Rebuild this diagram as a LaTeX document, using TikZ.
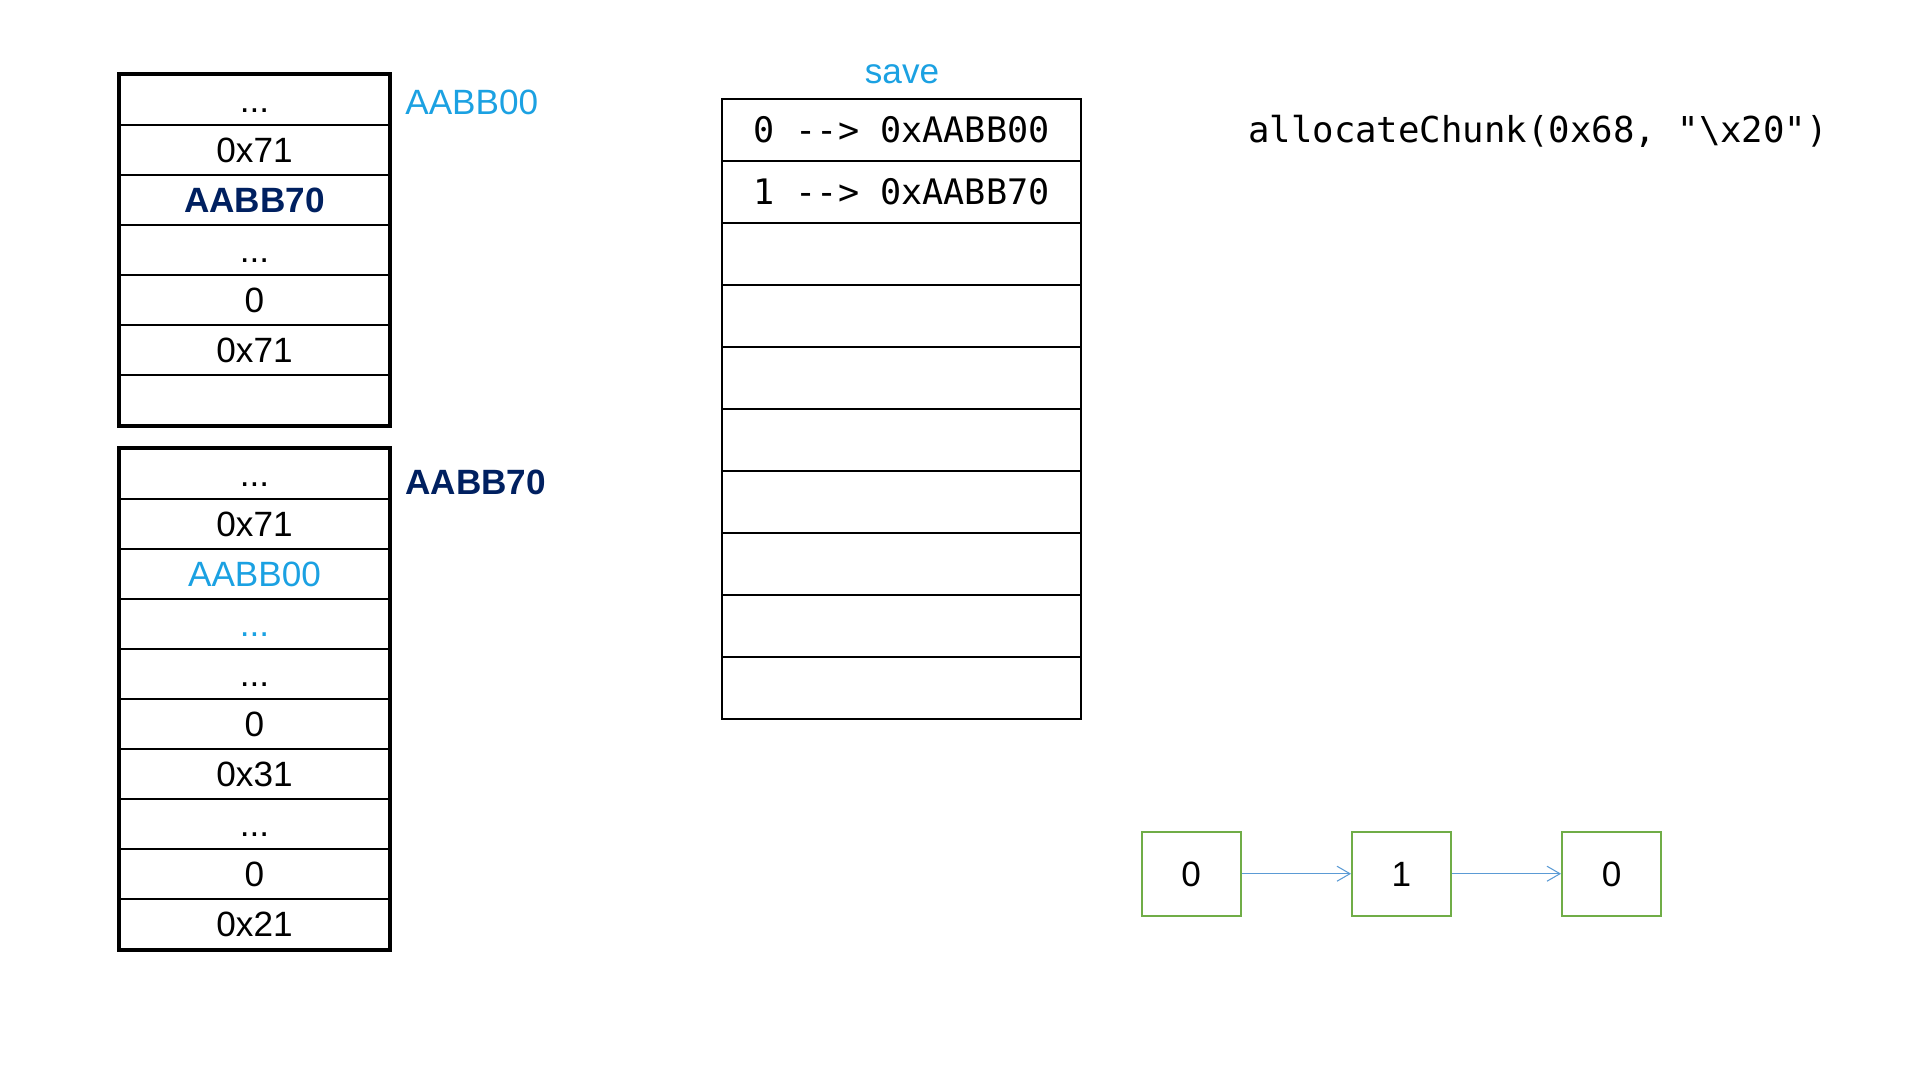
\documentclass[tikz,border=0pt]{standalone}
\usepackage{fontspec}
\setmainfont{Liberation Sans}
\setmonofont{DejaVu Sans Mono}
\usetikzlibrary{arrows.meta}

\definecolor{addrcyan}{RGB}{27,161,226}
\definecolor{addrnavy}{RGB}{0,32,96}
\definecolor{boxgreen}{RGB}{112,173,71}
\definecolor{linkblue}{RGB}{91,155,213}

\begin{document}
\begin{tikzpicture}[x=0.02cm, y=-0.02cm,
        cell/.style={draw, line width=1.1pt, minimum width=5.38cm, minimum height=1cm, inner sep=0pt,
            text height=14.3pt, text depth=0pt, font=\fontsize{20}{24}\selectfont},
        slot/.style={draw, line width=1pt, minimum width=7.18cm, minimum height=1.24cm, inner sep=0pt,
            text height=14.6pt, text depth=0pt, font=\ttfamily\fontsize{20}{24}\selectfont},
        listbox/.style={draw=boxgreen, line width=1.1pt, minimum width=1.98cm, minimum height=1.68cm, inner sep=0pt,
            text height=14.3pt, text depth=0pt, font=\fontsize{20}{24}\selectfont}]
        \useasboundingbox (0,0) rectangle (1920,1080);
        % chunk at AABB00
        \node[cell] (a1) at (254.5,100) {...};
        \node[cell] (a2) at (254.5,150) {0x71};
        \node[cell, text=addrnavy, font=\bfseries\fontsize{20}{24}\selectfont] (a3) at (254.5,200) {AABB70};
        \node[cell] (a4) at (254.5,250) {...};
        \node[cell] (a5) at (254.5,300) {0};
        \node[cell] (a6) at (254.5,350) {0x71};
        \node[cell] (a7) at (254.5,400) {};
        \draw[line width=2.3pt] (a1.north west) rectangle (a7.south east);
        \node[anchor=west, inner sep=0pt, text=addrcyan, font=\fontsize{20}{24}\selectfont] (la) at (405,102) {AABB00};
        % chunk at AABB70
        \node[cell] (b1) at (254.5,474) {...};
        \node[cell] (b2) at (254.5,524) {0x71};
        \node[cell, text=addrcyan] (b3) at (254.5,574) {AABB00};
        \node[cell, text=addrcyan] (b4) at (254.5,624) {...};
        \node[cell] (b5) at (254.5,674) {...};
        \node[cell] (b6) at (254.5,724) {0};
        \node[cell] (b7) at (254.5,774) {0x31};
        \node[cell] (b8) at (254.5,824) {...};
        \node[cell] (b9) at (254.5,874) {0};
        \node[cell] (b10) at (254.5,924) {0x21};
        \draw[line width=2.3pt] (b1.north west) rectangle (b10.south east);
        \node[anchor=west, inner sep=0pt, text=addrnavy, font=\bfseries\fontsize{20}{24}\selectfont] (lb) at (405,482) {AABB70};
        % save table
        \node[text=addrcyan, font=\fontsize{20}{24}\selectfont] (save) at (902,74) {save};
        \node[slot] (s1) at (901.5,130) {0 --> 0xAABB00};
        \node[slot] (s2) at (901.5,192) {1 --> 0xAABB70};
        \foreach \i in {3,...,10}
            \node[slot] (s\i) at (901.5,68+62*\i) {};
        \node[font=\ttfamily\fontsize{20.3}{24}\selectfont, text height=14.6pt, text depth=0pt] (call) at (1538,130) {allocateChunk(0x68, "\textbackslash x20")};
        % list
        \node[listbox] (n0) at (1191.2,873.7) {0};
        \node[listbox] (n1) at (1401.5,873.7) {1};
        \node[listbox] (n2) at (1611.5,873.7) {0};
        \draw[linkblue, line width=0.6pt, -{Straight Barb[length=0.26cm, width=0.3cm]}] (n0) -- (n1);
        \draw[linkblue, line width=0.6pt, -{Straight Barb[length=0.26cm, width=0.3cm]}] (n1) -- (n2);
\end{tikzpicture}
\end{document}
